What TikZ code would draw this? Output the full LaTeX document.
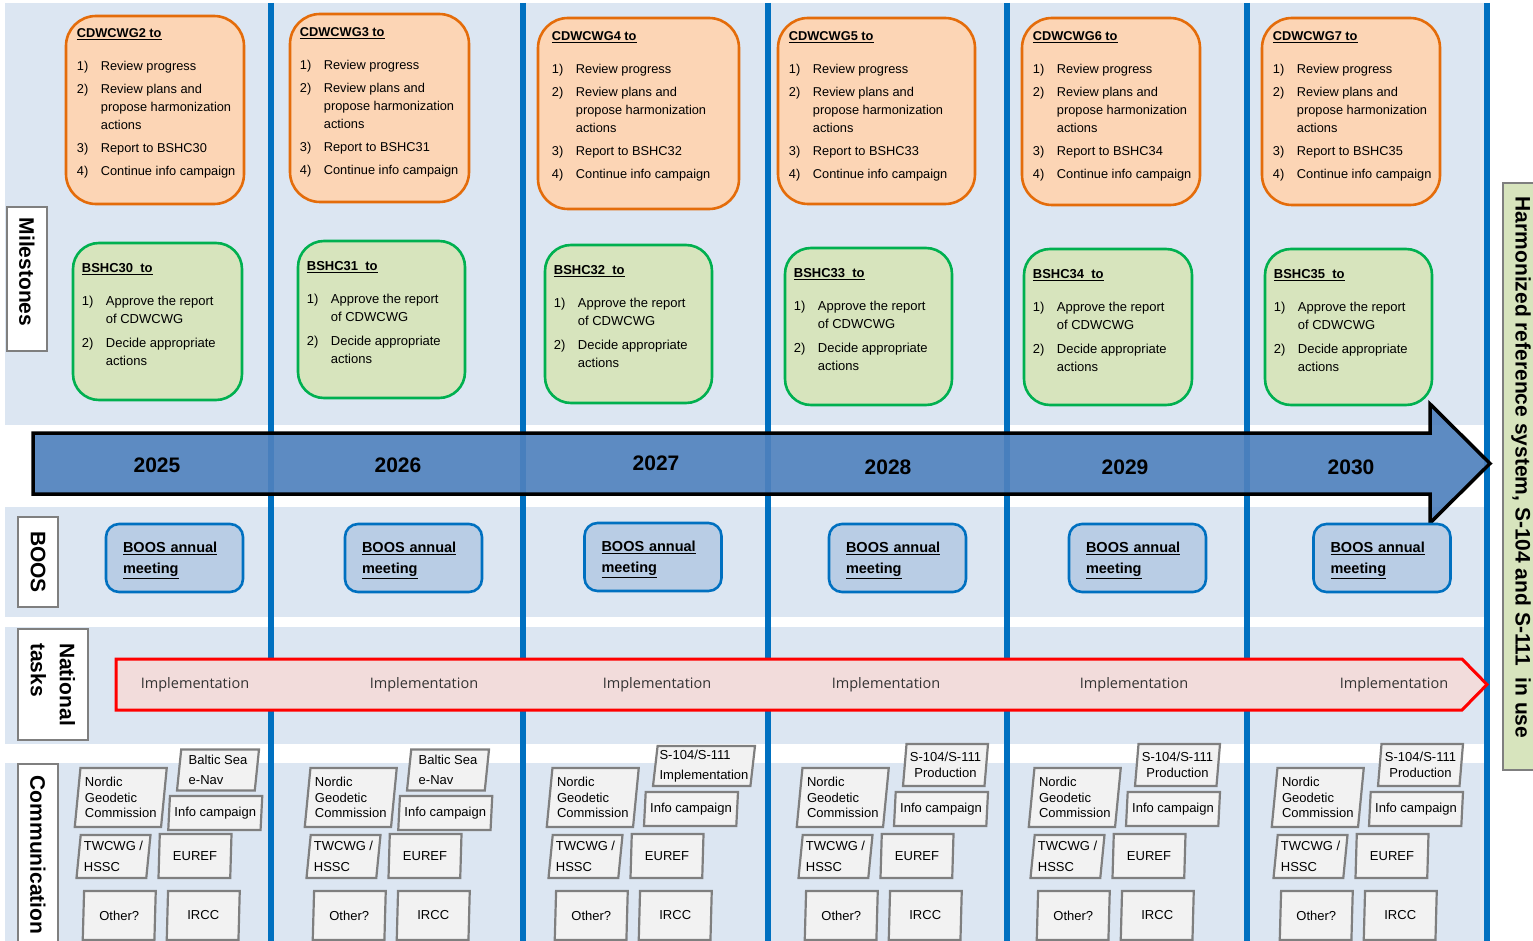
\documentclass[tikz,border=0pt]{standalone}
\usepackage{fontspec}
\setmainfont{Liberation Sans}
\newfontfamily\implfont{Open Sans}
\usepackage{tikz}
\usetikzlibrary{shapes.geometric}
\usetikzlibrary{positioning}
\definecolor{bandblue}{HTML}{DCE6F2}
\definecolor{lineblue}{HTML}{0070C0}
\definecolor{cdwfill}{HTML}{FCD5B5}
\definecolor{cdwdraw}{HTML}{E46C0A}
\definecolor{bshfill}{HTML}{D7E4BD}
\definecolor{bshdraw}{HTML}{00B050}
\definecolor{boosfill}{HTML}{B9CDE5}
\definecolor{arrowblue}{HTML}{4F81BD}
\definecolor{implfill}{HTML}{F2DCDB}
\definecolor{commfill}{HTML}{F2F2F2}
\definecolor{commdraw}{HTML}{7F7F7F}
\tikzstyle{band}=[fill=bandblue]
\tikzstyle{year line}=[draw=lineblue, line width=6pt]
\tikzstyle{cdw box}=[draw=cdwdraw, fill=cdwfill, line width=2.6pt, rounded corners=30pt]
\tikzstyle{bsh box}=[draw=bshdraw, fill=bshfill, line width=2.6pt, rounded corners=26pt]
\tikzstyle{boos box}=[draw=lineblue, fill=boosfill, line width=2.6pt, rounded corners=13pt, inner xsep=17pt, text width=103pt, text depth=22pt, align=left, font=\fontsize{14.5}{21}\selectfont\bfseries]
\tikzstyle{list text}=[inner sep=0pt, font=\fontsize{12.8}{18}\selectfont]
\tikzstyle{time arrow}=[fill=arrowblue, fill opacity=0.92, draw=black, draw opacity=1, line width=3.5pt]
\tikzstyle{impl arrow}=[fill=implfill, draw=red, line width=3pt]
\tikzstyle{year}=[font=\fontsize{21}{24}\selectfont\bfseries]
\tikzstyle{impl}=[font=\implfont\fontsize{14.5}{16}\selectfont, text=black!80]
\tikzstyle{comm box}=[trapezium, trapezium left angle=82, trapezium right angle=98, trapezium stretches body, draw=commdraw, fill=commfill, line width=2.2pt, inner sep=0pt, align=left, font=\fontsize{13}{15.5}\selectfont]
\tikzstyle{row label}=[draw=commdraw, fill=white, line width=1.2pt, rotate=-90, font=\fontsize{21}{24}\selectfont\bfseries]
\newcommand{\cdwtext}[2]{%
\begin{tabular}{@{}p{24pt}@{}l@{}}
\multicolumn{2}{@{}l@{}}{\underline{\textbf{CDWCWG#1 to}}}\\[15pt]
1) & Review progress\\[5pt]
2) & Review plans and\\
 & propose harmonization\\
 & actions\\[5pt]
3) & Report to BSHC#2\\[5pt]
4) & Continue info campaign
\end{tabular}}
\newcommand{\bshtext}[1]{%
\begin{tabular}{@{}p{24pt}@{}l@{}}
\multicolumn{2}{@{}l@{}}{\underline{\textbf{BSHC#1\ \ to}}}\\[15pt]
1) & Approve the report\\
 & of CDWCWG\\[6pt]
2) & Decide appropriate\\
 & actions
\end{tabular}}
\newcommand{\boostext}{\underline{BOOS annual}\\\underline{meeting}}
\newcommand{\commgroup}[2]{%
  \node[comm box, minimum width=92pt, minimum height=59pt] (#1ngc) at (120.75,797.5) {Nordic\\Geodetic\\Commission};
  \node[comm box, minimum width=94pt, minimum height=34pt] (#1info) at (#2) {Info campaign};
  \node[comm box, minimum width=74pt, minimum height=43pt] (#1tw) at (113.5,856.5) {TWCWG /\\[5pt]HSSC};
  \node[comm box, minimum width=73pt, minimum height=44pt] (#1euref) at (195,856) {EUREF};
  \node[comm box, minimum width=73pt, minimum height=49pt] (#1other) at (119.25,915.5) {Other?};
  \node[comm box, minimum width=73pt, minimum height=49pt] (#1ircc) at (203.25,915.5) {IRCC};
}

\begin{document}
\begin{tikzpicture}[x=1pt, y=-1pt]
\useasboundingbox (0,0) rectangle (1533,941);
% bands
\fill[band] (5,3) rectangle (1487,425);
\fill[band] (5,507) rectangle (1487,617);
\fill[band] (5,627) rectangle (1487,744);
\fill[band] (5,763) rectangle (1487,941);
\draw[year line] (271,3) -- (271,941) (523,3) -- (523,941) (768,3) -- (768,941)
  (1007,3) -- (1007,941) (1247,3) -- (1247,941) (1487,3) -- (1487,941);
%
\node[cdw box, minimum width=178pt, minimum height=188pt] (cdw2) at (155,110) {};
\node[cdw box, minimum width=179pt, minimum height=188pt] (cdw3) at (379.5,108) {};
\node[cdw box, minimum width=201pt, minimum height=191pt] (cdw4) at (638.5,113.5) {};
\node[cdw box, minimum width=197pt, minimum height=186pt] (cdw5) at (876.5,111) {};
\node[cdw box, minimum width=178pt, minimum height=187pt] (cdw6) at (1111,111.5) {};
\node[cdw box, minimum width=178pt, minimum height=187pt] (cdw7) at (1351,111.5) {};
\node[list text, below right=10pt and 12pt of cdw2.north west] (cdw2txt) {\cdwtext{2}{30}};
\node[list text, below right=11pt and 11pt of cdw3.north west] (cdw3txt) {\cdwtext{3}{31}};
\node[list text, below right=11pt and 15pt of cdw4.north west] (cdw4txt) {\cdwtext{4}{32}};
\node[list text, below right=11pt and 12pt of cdw5.north west] (cdw5txt) {\cdwtext{5}{33}};
\node[list text, below right=11pt and 12pt of cdw6.north west] (cdw6txt) {\cdwtext{6}{34}};
\node[list text, below right=11pt and 12pt of cdw7.north west] (cdw7txt) {\cdwtext{7}{35}};
%
\node[bsh box, minimum width=169pt, minimum height=157pt] (bsh30) at (157.5,321.5) {};
\node[bsh box, minimum width=167pt, minimum height=157pt] (bsh31) at (381.5,319.5) {};
\node[bsh box, minimum width=167pt, minimum height=158pt] (bsh32) at (628.5,324) {};
\node[bsh box, minimum width=167pt, minimum height=157pt] (bsh33) at (868.5,326.5) {};
\node[bsh box, minimum width=168pt, minimum height=156pt] (bsh34) at (1108,327) {};
\node[bsh box, minimum width=167pt, minimum height=156pt] (bsh35) at (1348.5,327) {};
\node[list text, font=\fontsize{13}{18}\selectfont, below right=18pt and 10pt of bsh30.north west] (bsh30txt) {\bshtext{30}};
\node[list text, font=\fontsize{13}{18}\selectfont, below right=18pt and 10pt of bsh31.north west] (bsh31txt) {\bshtext{31}};
\node[list text, font=\fontsize{13}{18}\selectfont, below right=18pt and 10pt of bsh32.north west] (bsh32txt) {\bshtext{32}};
\node[list text, font=\fontsize{13}{18}\selectfont, below right=18pt and 10pt of bsh33.north west] (bsh33txt) {\bshtext{33}};
\node[list text, font=\fontsize{13}{18}\selectfont, below right=18pt and 10pt of bsh34.north west] (bsh34txt) {\bshtext{34}};
\node[list text, font=\fontsize{13}{18}\selectfont, below right=18pt and 10pt of bsh35.north west] (bsh35txt) {\bshtext{35}};
%
\draw[time arrow] (33,433) -- (1430,433) -- (1430,404) -- (1490,463.5) -- (1430,523)
  -- (1430,494) -- (33,494) -- cycle;
\node[year] (y2025) at (157,465) {2025};
\node[year] (y2026) at (398,465) {2026};
\node[year] (y2027) at (656,463) {2027};
\node[year] (y2028) at (888,467) {2028};
\node[year] (y2029) at (1125,467) {2029};
\node[year] (y2030) at (1351,467) {2030};
%
\node[boos box, minimum width=137pt, minimum height=68pt] (boos1) at (174.5,558) {\boostext};
\node[boos box, minimum width=137pt, minimum height=68pt] (boos2) at (413.5,558) {\boostext};
\node[boos box, minimum width=136pt, minimum height=68pt] (boos3) at (653,557) {\boostext};
\node[boos box, minimum width=137pt, minimum height=68pt] (boos4) at (897.5,558) {\boostext};
\node[boos box, minimum width=137pt, minimum height=68pt] (boos5) at (1137.5,558) {\boostext};
\node[boos box, minimum width=136pt, minimum height=68pt] (boos6) at (1382,558) {\boostext};
%
\draw[impl arrow] (116,659) -- (1462,659) -- (1487,684.5) -- (1462,710) -- (116,710) -- cycle;
\node[impl] (impl1) at (195,685) {Implementation};
\node[impl] (impl2) at (424,685) {Implementation};
\node[impl] (impl3) at (657,685) {Implementation};
\node[impl] (impl4) at (886,685) {Implementation};
\node[impl] (impl5) at (1134,685) {Implementation};
\node[impl] (impl6) at (1394,685) {Implementation};
%
\begin{scope}
  \commgroup{c1}{215.25,813}
  \node[comm box, minimum width=82pt, minimum height=41pt] (c1baltic) at (218,770) {Baltic Sea\\[5pt]e-Nav};
\end{scope}
\begin{scope}[shift={(230,0)}]
  \commgroup{c2}{215.25,813}
  \node[comm box, minimum width=82pt, minimum height=41pt] (c2baltic) at (218,770) {Baltic Sea\\[5pt]e-Nav};
\end{scope}
\begin{scope}[shift={(472,0)}]
  \commgroup{c3}{219,809}
  \node[comm box, minimum width=102pt, minimum height=40pt] (c3s104) at (232,766) {S-104/S-111\\[5pt]Implementation};
\end{scope}
\begin{scope}[shift={(722,0)}]
  \commgroup{c4}{219,809}
  \node[comm box, minimum width=85pt, minimum height=42pt, align=center] (c4s104) at (223.5,765) {S-104/S-111\\Production};
\end{scope}
\begin{scope}[shift={(954,0)}]
  \commgroup{c5}{219,809}
  \node[comm box, minimum width=85pt, minimum height=42pt, align=center] (c5s104) at (223.5,765) {S-104/S-111\\Production};
\end{scope}
\begin{scope}[shift={(1197,0)}]
  \commgroup{c6}{219,809}
  \node[comm box, minimum width=85pt, minimum height=42pt, align=center] (c6s104) at (223.5,765) {S-104/S-111\\Production};
\end{scope}
%
\node[row label, minimum width=144pt, minimum height=40pt] (lmile) at (27,279) {};
\node[rotate=-90, font=\fontsize{21}{24}\selectfont\bfseries] (lmiletxt) at (27,272) {Milestones};
\node[row label, minimum width=90pt, minimum height=40pt] (lboos) at (38,562) {BOOS};
\node[row label, minimum width=111pt, minimum height=70pt, align=left] (lnat) at (53,684.5) {National\\[5pt]tasks};
\node[row label, minimum width=182pt, minimum height=40pt] (lcomm) at (38,855) {Communication};
\node[row label, fill=bshfill, minimum width=587pt, minimum height=38pt] (goal) at (1522,476.5) {};
\node[rotate=-90, font=\fontsize{21}{24}\selectfont\bfseries] (goaltxt) at (1521,467.5) {Harmonized reference system, S-104 and S-111\ \ in use};
\end{tikzpicture}
\end{document}
